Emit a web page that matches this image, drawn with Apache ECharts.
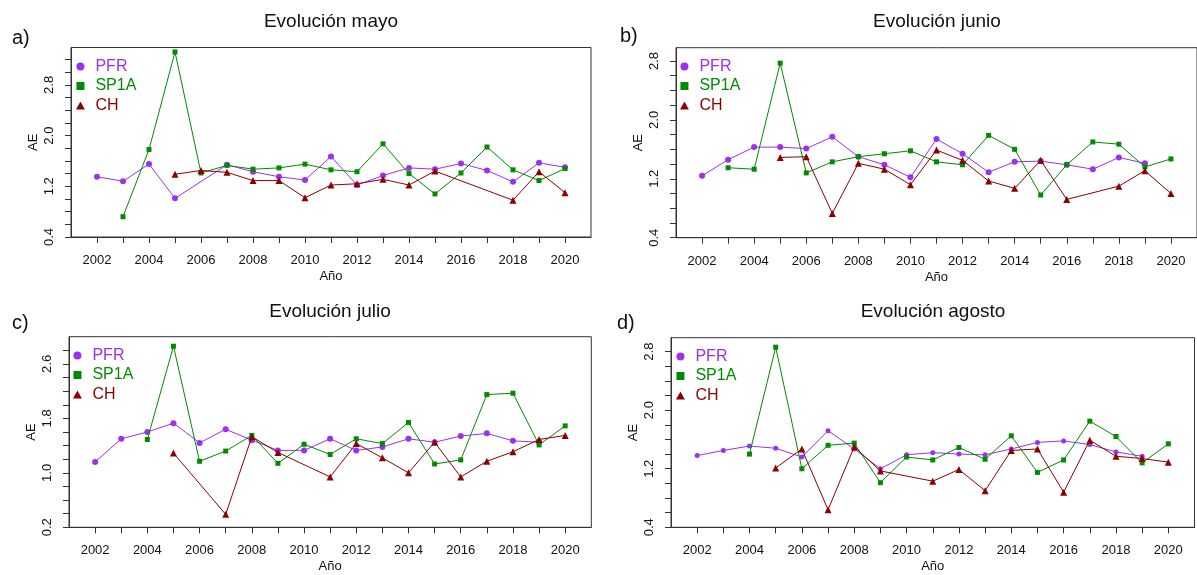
<!DOCTYPE html>
<html><head><meta charset="utf-8">
<script src="https://cdn.jsdelivr.net/npm/echarts@6/dist/echarts.min.js"></script>
<style>html,body{margin:0;padding:0;background:#fff}#c{width:1197px;height:575px}</style>
</head><body><div id="c"></div>
<script>
const years = [2002,2003,2004,2005,2006,2007,2008,2009,2010,2011,2012,2013,2014,2015,2016,2017,2018,2019,2020];
const xTickYears = years;
const xLabelYears = [2002,2004,2006,2008,2010,2012,2014,2016,2018,2020];

const mayoPFR  = [1.35,1.28,1.55,1.01,null,1.54,1.43,1.35,1.30,1.67,1.22,1.37,1.49,1.47,1.56,1.45,1.27,1.57,1.50];
const mayoSP1A = [null,0.72,1.78,3.32,1.41,1.53,1.47,1.49,1.55,1.46,1.43,1.87,1.40,1.08,1.41,1.82,1.46,1.29,1.48];
const mayoCH   = [null,null,null,1.39,1.45,1.42,1.29,1.29,1.02,1.22,1.24,1.31,1.22,1.44,null,null,0.98,1.43,1.10];

const junioPFR  = [1.24,1.46,1.63,1.63,1.61,1.77,1.50,1.39,1.22,1.74,1.54,1.29,1.43,1.44,1.39,1.33,1.49,1.41,null];
const junioSP1A = [null,1.35,1.33,2.77,1.28,1.43,1.50,1.54,1.58,1.43,1.39,1.79,1.60,0.98,1.39,1.70,1.67,1.36,1.47];
const junioCH   = [null,null,null,1.49,1.50,0.73,1.41,1.33,1.12,1.59,1.45,1.17,1.07,1.45,0.92,null,1.10,1.31,1.00];

const julioPFR  = [1.16,1.50,1.60,1.73,1.44,1.64,1.48,1.33,1.33,1.50,1.33,1.38,1.50,1.45,1.54,1.58,1.47,1.45,null];
const julioSP1A = [null,null,1.49,2.86,1.17,1.32,1.55,1.14,1.42,1.27,1.50,1.43,1.74,1.13,1.19,2.15,2.17,1.41,1.69];
const julioCH   = [null,null,null,1.29,null,0.39,1.53,1.30,null,0.94,1.43,1.22,1.00,1.45,0.94,1.17,1.31,1.49,1.55];

const agostoPFR  = [1.38,1.45,1.51,1.48,1.36,1.72,1.47,1.20,1.39,1.42,1.40,1.39,1.47,1.56,1.58,1.53,1.43,1.37,null];
const agostoSP1A = [null,null,1.40,2.86,1.20,1.52,1.55,1.01,1.36,1.32,1.49,1.33,1.65,1.15,1.32,1.85,1.64,1.28,1.54];
const agostoCH   = [null,null,null,1.21,1.47,0.64,1.50,1.17,null,1.03,1.19,0.90,1.45,1.47,0.88,1.59,1.37,1.34,1.29];

const yTicksA = [0.4,0.6,0.8,1.0,1.2,1.4,1.6,1.8,2.0,2.2,2.4,2.6,2.8,3.0,3.2];
const yTicksB = [0.4,0.6,0.8,1.0,1.2,1.4,1.6,1.8,2.0,2.2,2.4,2.6,2.8];
const yTicksC = [0.2,0.4,0.6,0.8,1.0,1.2,1.4,1.6,1.8,2.0,2.2,2.4,2.6,2.8];
const yLabelsABD = [0.4,1.2,2.0,2.8];
const yLabelsC = [0.2,1.0,1.8,2.6];

const titles = ['Evolución mayo','Evolución junio','Evolución julio','Evolución agosto'];
const letters = ['a)','b)','c)','d)'];
const seriesNames = ['PFR','SP1A','CH'];

const FONT = "'Liberation Sans', Arial, sans-serif";
const TXT = '#111';
const AXC = '#333';
const colors = {PFR:'#9b30f0', SP1A:'#008b00', CH:'#8b0000'};
const symbols = {PFR:'circle', SP1A:'rect', CH:'triangle'};
const legendIcons = {PFR:'circle', SP1A:'path://M0,0H10V10H0Z', CH:'path://M5,0L10,9L0,9Z'};

const panels = [
  {grid:{left:71, top:47.5, width:520, height:189.5}, ymin:0.4, ymax:3.39, ticks:yTicksA, labels:yLabelsABD,
   data:[mayoPFR, mayoSP1A, mayoCH], legend:{left:76, top:58.5}, title:[331,22], letter:[12,38], sizes:[6,5,7]},
  {grid:{left:676, top:47.7, width:522.6, height:190}, ymin:0.4, ymax:2.98, ticks:yTicksB, labels:yLabelsABD,
   data:[junioPFR, junioSP1A, junioCH], legend:{left:680, top:58.5}, title:[937,22], letter:[620,36], sizes:[6,5,7]},
  {grid:{left:69, top:336.7, width:522.3, height:190.6}, ymin:0.2, ymax:3.0, ticks:yTicksC, labels:yLabelsC,
   data:[julioPFR, julioSP1A, julioCH], legend:{left:73, top:347.5}, title:[330,312], letter:[12,323], sizes:[6,5,7]},
  {grid:{left:671, top:337.7, width:523.5, height:189.6}, ymin:0.4, ymax:2.99, ticks:yTicksB, labels:yLabelsABD,
   data:[agostoPFR, agostoSP1A, agostoCH], legend:{left:676, top:348.5}, title:[933,312], letter:[617,323], sizes:[5,5,7]}
];

const option = {
  animation:false,
  backgroundColor:'#fff',
  grid:[], xAxis:[], yAxis:[], series:[], legend:[], graphic:[]
};

panels.forEach((p, i) => {
  option.grid.push(Object.assign({show:true, borderColor:AXC, borderWidth:1, containLabel:false}, p.grid));
  option.xAxis.push({
    type:'value', gridIndex:i, min:2001, max:2021,
    name:'Año', nameLocation:'middle', nameGap:33,
    nameTextStyle:{fontFamily:FONT, fontSize:13, color:TXT},
    axisLine:{show:true, onZero:false, lineStyle:{color:AXC, width:1}},
    axisTick:{show:true, length:6, customValues:xTickYears, lineStyle:{color:AXC}},
    axisLabel:{show:true, customValues:xLabelYears, margin:17, fontFamily:FONT, fontSize:13, color:TXT,
      formatter:v => String(Math.round(v))},
    splitLine:{show:false}
  });
  option.yAxis.push({
    type:'value', gridIndex:i, min:p.ymin, max:p.ymax,
    name:'AE', nameLocation:'middle', nameGap:31,
    nameTextStyle:{fontFamily:FONT, fontSize:13, color:TXT},
    axisLine:{show:true, lineStyle:{color:AXC, width:1}},
    axisTick:{show:true, length:6, customValues:p.ticks, lineStyle:{color:AXC}},
    axisLabel:{show:true, customValues:p.labels, rotate:90, margin:15, fontFamily:FONT, fontSize:13, color:TXT,
      formatter:v => v.toFixed(1)},
    splitLine:{show:false}
  });
  seriesNames.forEach((name, k) => {
    const vals = p.data[k];
    option.series.push({
      type:'line', name:name, xAxisIndex:i, yAxisIndex:i,
      data: years.map((y, j) => [y, vals[j]]).filter(d => d[1] !== null),
      symbol:symbols[name], symbolSize:p.sizes[k], showAllSymbol:true,
      lineStyle:{color:colors[name], width:1},
      itemStyle:{color:colors[name], borderWidth:0},
      emphasis:{disabled:true}, z:2+k
    });
  });
  option.legend.push({
    orient:'vertical', left:p.legend.left, top:p.legend.top, padding:0,
    itemWidth:20, itemHeight:8, itemGap:3.5, selectedMode:false,
    textStyle:{fontFamily:FONT, fontSize:16},
    data: seriesNames.map(n => ({name:n, icon:legendIcons[n], textStyle:{color:colors[n]}}))
  });
  option.graphic.push({type:'text', x:p.title[0], y:p.title[1],
    style:{text:titles[i], font:'19px ' + FONT, fill:TXT, textAlign:'center', textVerticalAlign:'middle'}});
  option.graphic.push({type:'text', x:p.letter[0], y:p.letter[1],
    style:{text:letters[i], font:'20px ' + FONT, fill:TXT, textAlign:'left', textVerticalAlign:'middle'}});
});

const chart = echarts.init(document.getElementById('c'), null, {renderer:'canvas'});
chart.setOption(option);
</script>
</body></html>
